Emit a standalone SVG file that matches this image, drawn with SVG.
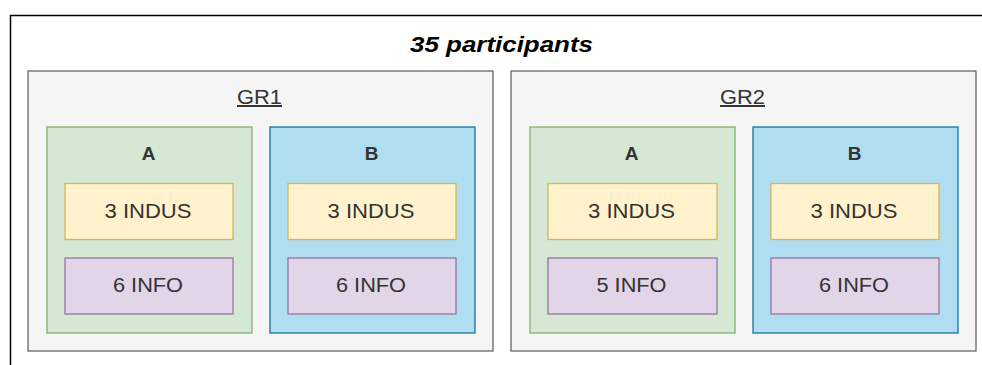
<svg xmlns="http://www.w3.org/2000/svg" width="982" height="365" viewBox="0 0 982 365">
<style>
text{font-family:"Liberation Sans",Arial,sans-serif;fill:#333;text-anchor:middle}
.gr{fill:#f5f5f5;stroke:#666;stroke-width:1.3}
.a{fill:#d5e8d4;stroke:#82b366;stroke-width:1.3}
.b{fill:#b1ddf0;stroke:#10739e;stroke-width:1.3}
.ind{fill:#fff2cc;stroke:#d6b656;stroke-width:1.3}
.inf{fill:#e1d5e7;stroke:#9673a6;stroke-width:1.3}
.lbl{font-size:20px;text-decoration:underline}
.ab{font-size:19px;font-weight:bold}
.t{font-size:20px}
</style>
<g id="frame">
<path d="M10.5,365 V15.5 H982" fill="none" stroke="#000" stroke-width="1.5"/>
<text x="501.5" y="52" textLength="183" lengthAdjust="spacingAndGlyphs" style="font-size:22px;font-weight:bold;font-style:italic;fill:#000">35 participants</text>
</g>
<g id="gr1">
<rect class="gr" x="28" y="71" width="465" height="280"/>
<text class="lbl" x="259.5" y="104" textLength="45" lengthAdjust="spacingAndGlyphs">GR1</text>
</g>
<g id="gr1-a">
<rect class="a" x="47" y="127" width="205" height="206"/>
<text class="ab" x="148.5" y="160">A</text>
</g>
<g id="gr1-a-indus"><rect class="ind" x="65" y="183.5" width="168" height="56"/><text class="t" x="148" y="217.5" textLength="87" lengthAdjust="spacingAndGlyphs">3 INDUS</text></g>
<g id="gr1-a-info"><rect class="inf" x="65" y="258" width="168" height="56"/><text class="t" x="148" y="292" textLength="70" lengthAdjust="spacingAndGlyphs">6 INFO</text></g>
<g id="gr1-b">
<rect class="b" x="270" y="127" width="205" height="206"/>
<text class="ab" x="371.5" y="160">B</text>
</g>
<g id="gr1-b-indus"><rect class="ind" x="288" y="183.5" width="168" height="56"/><text class="t" x="371" y="217.5" textLength="87" lengthAdjust="spacingAndGlyphs">3 INDUS</text></g>
<g id="gr1-b-info"><rect class="inf" x="288" y="258" width="168" height="56"/><text class="t" x="371" y="292" textLength="70" lengthAdjust="spacingAndGlyphs">6 INFO</text></g>
<g id="gr2">
<rect class="gr" x="511" y="71" width="465" height="280"/>
<text class="lbl" x="742.5" y="104" textLength="45" lengthAdjust="spacingAndGlyphs">GR2</text>
</g>
<g id="gr2-a">
<rect class="a" x="530" y="127" width="205" height="206"/>
<text class="ab" x="631.5" y="160">A</text>
</g>
<g id="gr2-a-indus"><rect class="ind" x="548" y="183.5" width="169" height="56"/><text class="t" x="631.5" y="217.5" textLength="87" lengthAdjust="spacingAndGlyphs">3 INDUS</text></g>
<g id="gr2-a-info"><rect class="inf" x="548" y="258" width="169" height="56"/><text class="t" x="631.5" y="292" textLength="70" lengthAdjust="spacingAndGlyphs">5 INFO</text></g>
<g id="gr2-b">
<rect class="b" x="753" y="127" width="205" height="206"/>
<text class="ab" x="854.5" y="160">B</text>
</g>
<g id="gr2-b-indus"><rect class="ind" x="771" y="183.5" width="168" height="56"/><text class="t" x="854" y="217.5" textLength="87" lengthAdjust="spacingAndGlyphs">3 INDUS</text></g>
<g id="gr2-b-info"><rect class="inf" x="771" y="258" width="168" height="56"/><text class="t" x="854" y="292" textLength="70" lengthAdjust="spacingAndGlyphs">6 INFO</text></g>
<g id="connectors"></g>
</svg>
